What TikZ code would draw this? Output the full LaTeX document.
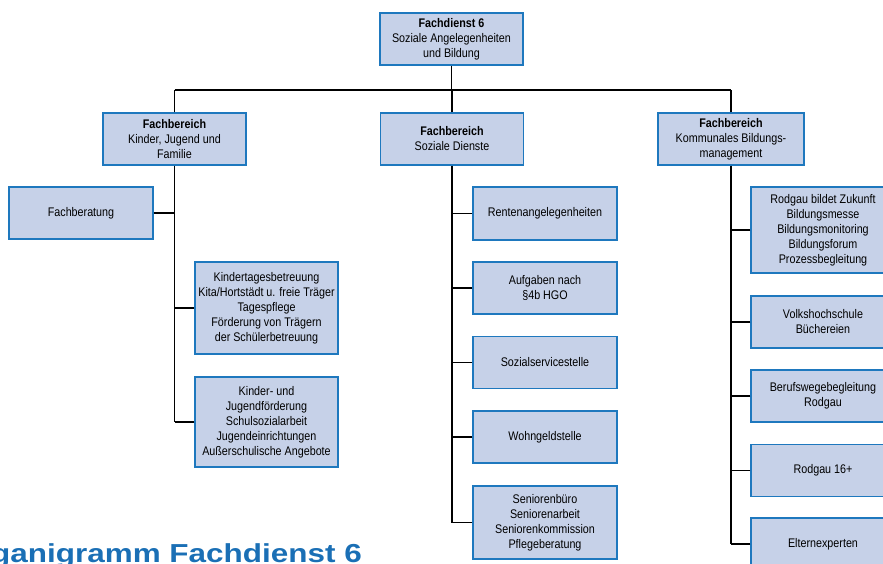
\documentclass[tikz,border=0pt]{standalone}
\usepackage{fontspec}
\setmainfont{Liberation Sans}[FakeStretch=0.86]
\newfontfamily\titlefont{Liberation Sans}[FakeStretch=1.21]
\definecolor{boxfill}{HTML}{C6D1E8}
\definecolor{boxline}{HTML}{1E78BE}
\definecolor{titleblue}{HTML}{1A6FB5}
\begin{document}
\begin{tikzpicture}[x=1pt,y=-1pt,
  bx/.style={draw=boxline, line width=1.3pt, fill=boxfill, rectangle, inner sep=0pt,
    align=center, font=\fontsize{12.5}{15}\selectfont, minimum width=143pt, minimum height=52pt},
  conn/.style={draw=black, line width=1.7pt}]
\useasboundingbox (0,0) rectangle (883,564);
\clip (0,0) rectangle (883,564);
% top
\node[bx] (top) at (451.5,39) {\textbf{Fachdienst 6}\\Soziale Angelegenheiten\\und Bildung};
% Fachbereiche
\node[bx] (fb1) at (174.5,139) {\textbf{Fachbereich}\\Kinder, Jugend und\\Familie};
\node[bx] (fb2) at (452,139) {\textbf{Fachbereich}\\Soziale Dienste};
\node[bx, minimum width=146pt] (fb3) at (731,139) {\textbf{Fachbereich}\\Kommunales Bildungs-\\management};
% left column
\node[bx, minimum width=144pt] (fberat) at (81,213) {Fachberatung};
\node[bx, minimum height=92pt] (k1) at (266.5,308) {Kindertagesbetreuung\\Kita/Hortstädt u. freie Träger\\Tagespflege\\Förderung von Trägern\\der Schülerbetreuung};
\node[bx, minimum height=90pt] (k2) at (266.5,422) {Kinder- und\\Jugendförderung\\Schulsozialarbeit\\Jugendeinrichtungen\\Außerschulische Angebote};
% middle column
\node[bx, minimum width=144pt, minimum height=53pt] (s1) at (545,213.5) {Rentenangelegenheiten};
\node[bx, minimum width=144pt] (s2) at (545,288) {Aufgaben nach\\§4b HGO};
\node[bx, minimum width=144pt] (s3) at (545,362.5) {Sozialservicestelle};
\node[bx, minimum width=144pt] (s4) at (545,437) {Wohngeldstelle};
\node[bx, minimum width=144pt, minimum height=73pt] (s5) at (545,522.5) {Seniorenbüro\\Seniorenarbeit\\Seniorenkommission\\Pflegeberatung};
% right column
\node[bx, minimum width=144pt, minimum height=86pt] (b1) at (823,230) {Rodgau bildet Zukunft\\Bildungsmesse\\Bildungsmonitoring\\Bildungsforum\\Prozessbegleitung};
\node[bx, minimum width=144pt] (b2) at (823,322) {Volkshochschule\\Büchereien};
\node[bx, minimum width=144pt] (b3) at (823,396) {Berufswegebegleitung\\Rodgau};
\node[bx, minimum width=144pt] (b4) at (823,470.5) {Rodgau 16+};
\node[bx, minimum width=144pt] (b5) at (823,544) {Elternexperten};
% title
\node[anchor=base east, inner sep=0pt, text=titleblue, font=\titlefont\bfseries\fontsize{26}{30}\selectfont] (title) at (362,562) {Organigramm Fachdienst 6};
% connectors
\coordinate (hb) at (0,90);
\draw[conn] (top.south) -- (top.south |- hb);
\draw[conn] (fb1.north |- hb) -- (fb3.north |- hb);
\draw[conn] (fb1.north) -- (fb1.north |- hb);
\draw[conn] (fb2.north) -- (fb2.north |- hb);
\draw[conn] (fb3.north) -- (fb3.north |- hb);
% left trunk
\draw[conn] (fb1.south) -- (fb1.south |- k2.west);
\draw[conn] (fberat.east) -- (fberat.east -| fb1.south);
\draw[conn] (k1.west) -- (k1.west -| fb1.south);
\draw[conn] (k2.west) -- (k2.west -| fb1.south);
% middle trunk
\draw[conn] (fb2.south) -- (fb2.south |- s5.west);
\foreach \n in {s1,s2,s3,s4,s5} \draw[conn] (\n.west) -- (\n.west -| fb2.south);
% right trunk
\draw[conn] (fb3.south) -- (fb3.south |- b5.west);
\foreach \n in {b1,b2,b3,b4,b5} \draw[conn] (\n.west) -- (\n.west -| fb3.south);
\end{tikzpicture}
\end{document}
